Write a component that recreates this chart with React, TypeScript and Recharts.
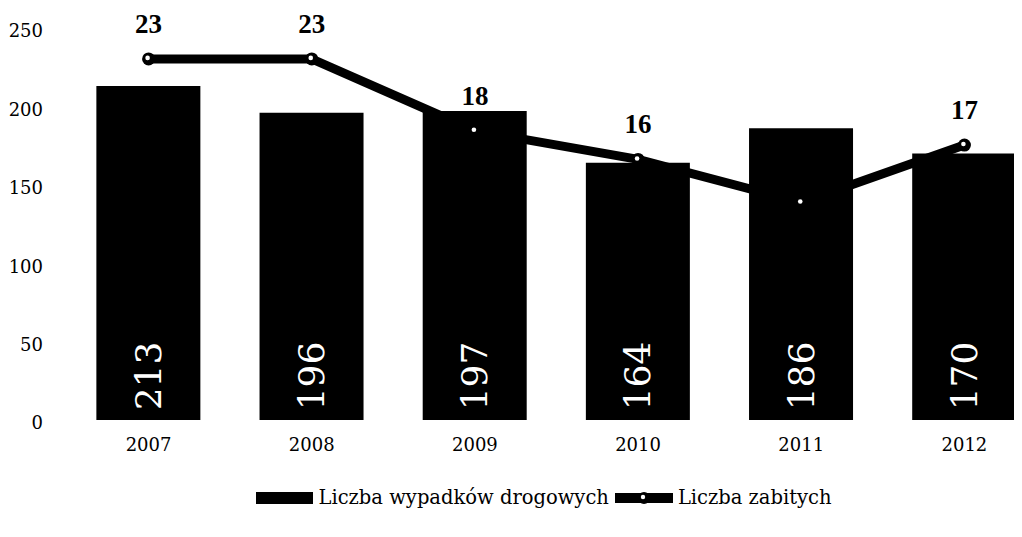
import {
  ComposedChart,
  Bar,
  Line,
  XAxis,
  YAxis,
  Legend,
  LabelList,
} from "recharts";

const years = ["2007", "2008", "2009", "2010", "2011", "2012"];
const accidents = [213, 196, 197, 164, 186, 170];
const killed = [23, 23, 18, 16, 13, 17];
const leftTicks = [0, 50, 100, 150, 200, 250];

const data = years.map((year, i) => ({
  year,
  accidents: accidents[i],
  killed: killed[i],
}));

const SERIF = "'DejaVu Serif', serif";
const BOLD = "'Liberation Serif', serif";

function BarValue(props: any) {
  const { x, y, width, height, value } = props;
  const cx = x + width / 2;
  const cy = y + height - 44;
  return (
    <text
      x={cx}
      y={cy}
      transform={`rotate(-90 ${cx} ${cy})`}
      textAnchor="middle"
      dominantBaseline="central"
      fill="#fff"
      fontFamily={SERIF}
      fontSize={36}
    >
      {value}
    </text>
  );
}

function KilledValue(props: any) {
  const { x, y, value } = props;
  return (
    <text
      x={x}
      y={y - 26}
      textAnchor="middle"
      fill="#000"
      fontFamily={BOLD}
      fontWeight="bold"
      fontSize={27}
    >
      {value}
    </text>
  );
}

function Marker(props: any) {
  const { cx, cy, index } = props;
  return (
    <g key={`m-${index}`}>
      <circle cx={cx} cy={cy} r={6.5} fill="#000" />
      <circle cx={cx - 1} cy={cy - 1} r={2.3} fill="#fff" />
    </g>
  );
}

function LegendBox() {
  const item = { display: "flex", alignItems: "center", gap: 5 } as const;
  return (
    <div
      style={{
        display: "flex",
        justifyContent: "center",
        gap: 6,
        fontFamily: SERIF,
        fontSize: 19.5,
        color: "#000",
        paddingLeft: 58,
      }}
    >
      <div style={item}>
        <svg width={57} height={14}>
          <rect x={0} y={1} width={57} height={12} fill="#000" />
        </svg>
        <span>Liczba wypadków drogowych</span>
      </div>
      <div style={item}>
        <svg width={58} height={14}>
          <rect x={0} y={2} width={58} height={10} fill="#000" />
          <circle cx={29} cy={7} r={6} fill="#000" />
          <circle cx={28} cy={6} r={2.2} fill="#fff" />
        </svg>
        <span>Liczba zabitych</span>
      </div>
    </div>
  );
}

export default function App() {
  return (
    <div style={{ width: 1014, height: 529, overflow: "hidden", background: "#fff" }}>
      <ComposedChart
        width={1040}
        height={529}
        data={data}
        margin={{ top: 20, right: 2, left: 0, bottom: 64 }}
        barCategoryGap="18%"
      >
        <XAxis
          dataKey="year"
          axisLine={false}
          tickLine={false}
          tickMargin={12}
          tick={{ fill: "#000", fontSize: 18, fontFamily: SERIF }}
        />
        <YAxis
          yAxisId="left"
          domain={[0, 250]}
          ticks={leftTicks}
          width={59}
          axisLine={false}
          tickLine={false}
          tickMargin={18}
          tick={{ fill: "#000", fontSize: 18, fontFamily: SERIF, dy: 3 }}
        />
        <YAxis yAxisId="right" orientation="right" hide domain={[-2.14, 25.15]} />
        <Line
          yAxisId="right"
          dataKey="killed"
          stroke="#000"
          strokeWidth={9}
          dot={false}
          activeDot={false}
          isAnimationActive={false}
          legendType="none"
          zIndex={100}
        >
          <LabelList dataKey="killed" content={KilledValue} zIndex={100} />
        </Line>
        <Bar
          yAxisId="left"
          dataKey="accidents"
          name="Liczba wypadków drogowych"
          fill="#000"
          isAnimationActive={false}
        >
          <LabelList dataKey="accidents" content={BarValue} />
        </Bar>
        <Line
          yAxisId="right"
          dataKey="killed"
          name="Liczba zabitych"
          stroke="none"
          dot={Marker}
          activeDot={false}
          isAnimationActive={false}
        />
        <Legend
          content={LegendBox}
          wrapperStyle={{ top: 478, left: 0, width: 1014 }}
        />
      </ComposedChart>
    </div>
  );
}
